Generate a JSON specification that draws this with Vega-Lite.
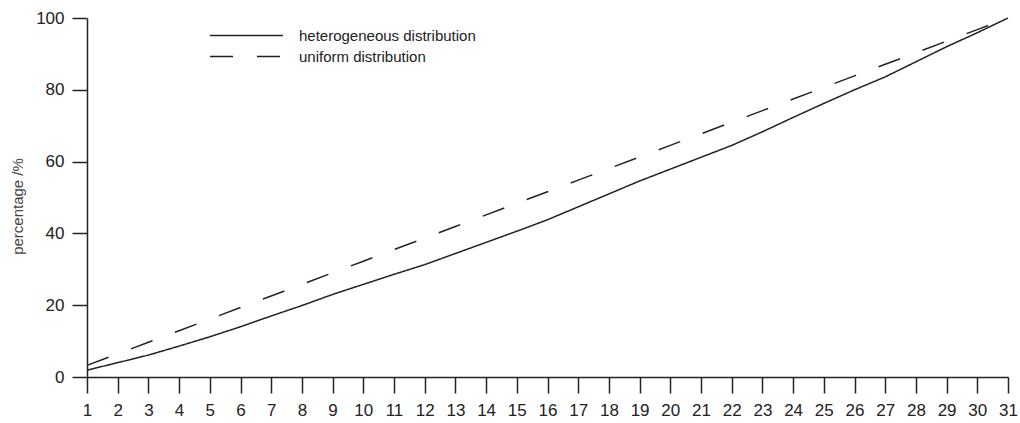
{
  "$schema": "https://vega.github.io/schema/vega-lite/v6.json",
  "width": 921,
  "height": 359,
  "autosize": {"type": "none"},
  "padding": {"left": 87, "top": 18, "right": 12, "bottom": 46},
  "config": {
    "font": "Liberation Sans",
    "view": {"stroke": null},
    "axis": {"grid": false, "domainColor": "#222", "tickColor": "#222", "labelColor": "#222", "domainWidth": 1.5, "tickWidth": 1.5}
  },
  "data": {"values": [
    {"x": 1, "pct": 1.9, "series": "heterogeneous distribution"},
    {"x": 2, "pct": 4.0, "series": "heterogeneous distribution"},
    {"x": 3, "pct": 6.1, "series": "heterogeneous distribution"},
    {"x": 4, "pct": 8.6, "series": "heterogeneous distribution"},
    {"x": 5, "pct": 11.2, "series": "heterogeneous distribution"},
    {"x": 6, "pct": 14.0, "series": "heterogeneous distribution"},
    {"x": 7, "pct": 17.0, "series": "heterogeneous distribution"},
    {"x": 8, "pct": 19.9, "series": "heterogeneous distribution"},
    {"x": 9, "pct": 23.0, "series": "heterogeneous distribution"},
    {"x": 10, "pct": 25.8, "series": "heterogeneous distribution"},
    {"x": 11, "pct": 28.6, "series": "heterogeneous distribution"},
    {"x": 12, "pct": 31.3, "series": "heterogeneous distribution"},
    {"x": 13, "pct": 34.4, "series": "heterogeneous distribution"},
    {"x": 14, "pct": 37.5, "series": "heterogeneous distribution"},
    {"x": 15, "pct": 40.6, "series": "heterogeneous distribution"},
    {"x": 16, "pct": 43.8, "series": "heterogeneous distribution"},
    {"x": 17, "pct": 47.4, "series": "heterogeneous distribution"},
    {"x": 18, "pct": 51.0, "series": "heterogeneous distribution"},
    {"x": 19, "pct": 54.6, "series": "heterogeneous distribution"},
    {"x": 20, "pct": 57.9, "series": "heterogeneous distribution"},
    {"x": 21, "pct": 61.2, "series": "heterogeneous distribution"},
    {"x": 22, "pct": 64.5, "series": "heterogeneous distribution"},
    {"x": 23, "pct": 68.3, "series": "heterogeneous distribution"},
    {"x": 24, "pct": 72.3, "series": "heterogeneous distribution"},
    {"x": 25, "pct": 76.2, "series": "heterogeneous distribution"},
    {"x": 26, "pct": 80.0, "series": "heterogeneous distribution"},
    {"x": 27, "pct": 83.6, "series": "heterogeneous distribution"},
    {"x": 28, "pct": 87.8, "series": "heterogeneous distribution"},
    {"x": 29, "pct": 92.0, "series": "heterogeneous distribution"},
    {"x": 30, "pct": 95.9, "series": "heterogeneous distribution"},
    {"x": 31, "pct": 100.0, "series": "heterogeneous distribution"},
    {"x": 1, "pct": 3.23, "series": "uniform distribution"},
    {"x": 2, "pct": 6.45, "series": "uniform distribution"},
    {"x": 3, "pct": 9.68, "series": "uniform distribution"},
    {"x": 4, "pct": 12.9, "series": "uniform distribution"},
    {"x": 5, "pct": 16.13, "series": "uniform distribution"},
    {"x": 6, "pct": 19.35, "series": "uniform distribution"},
    {"x": 7, "pct": 22.58, "series": "uniform distribution"},
    {"x": 8, "pct": 25.81, "series": "uniform distribution"},
    {"x": 9, "pct": 29.03, "series": "uniform distribution"},
    {"x": 10, "pct": 32.26, "series": "uniform distribution"},
    {"x": 11, "pct": 35.48, "series": "uniform distribution"},
    {"x": 12, "pct": 38.71, "series": "uniform distribution"},
    {"x": 13, "pct": 41.94, "series": "uniform distribution"},
    {"x": 14, "pct": 45.16, "series": "uniform distribution"},
    {"x": 15, "pct": 48.39, "series": "uniform distribution"},
    {"x": 16, "pct": 51.61, "series": "uniform distribution"},
    {"x": 17, "pct": 54.84, "series": "uniform distribution"},
    {"x": 18, "pct": 58.06, "series": "uniform distribution"},
    {"x": 19, "pct": 61.29, "series": "uniform distribution"},
    {"x": 20, "pct": 64.52, "series": "uniform distribution"},
    {"x": 21, "pct": 67.74, "series": "uniform distribution"},
    {"x": 22, "pct": 70.97, "series": "uniform distribution"},
    {"x": 23, "pct": 74.19, "series": "uniform distribution"},
    {"x": 24, "pct": 77.42, "series": "uniform distribution"},
    {"x": 25, "pct": 80.65, "series": "uniform distribution"},
    {"x": 26, "pct": 83.87, "series": "uniform distribution"},
    {"x": 27, "pct": 87.1, "series": "uniform distribution"},
    {"x": 28, "pct": 90.32, "series": "uniform distribution"},
    {"x": 29, "pct": 93.55, "series": "uniform distribution"},
    {"x": 30, "pct": 96.77, "series": "uniform distribution"},
    {"x": 31, "pct": 100.0, "series": "uniform distribution"}
  ]},
  "mark": {"type": "line", "color": "#222", "strokeWidth": 1.5},
  "encoding": {
    "x": {
      "field": "x", "type": "quantitative",
      "scale": {"domain": [1, 31], "nice": false, "zero": false},
      "axis": {"values": [1,2,3,4,5,6,7,8,9,10,11,12,13,14,15,16,17,18,19,20,21,22,23,24,25,26,27,28,29,30,31],
               "title": null, "tickSize": 16, "labelFontSize": 17, "labelPadding": 9, "labelFlush": false}
    },
    "y": {
      "field": "pct", "type": "quantitative",
      "scale": {"domain": [0, 100], "nice": false},
      "axis": {"values": [0, 20, 40, 60, 80, 100], "title": "percentage /%", "tickSize": 15,
               "labelFontSize": 17, "labelPadding": 8, "titleFontSize": 15, "titleFontWeight": "normal",
               "titleColor": "#444", "titleX": -70, "titleY": 188, "titleAngle": -90, "titleAlign": "center", "titleBaseline": "middle"}
    },
    "strokeDash": {
      "field": "series", "type": "nominal",
      "scale": {"domain": ["heterogeneous distribution", "uniform distribution"], "range": [[1, 0], [23, 24]]},
      "legend": {
        "title": null, "orient": "none", "legendX": 122, "legendY": 9,
        "symbolType": "stroke", "symbolSize": 5329, "symbolStrokeWidth": 1.5, "symbolStrokeColor": "#222",
        "labelFontSize": 15, "labelColor": "#222", "labelOffset": 15, "labelLimit": 400, "clipHeight": 17, "rowPadding": 4
      }
    }
  }
}
